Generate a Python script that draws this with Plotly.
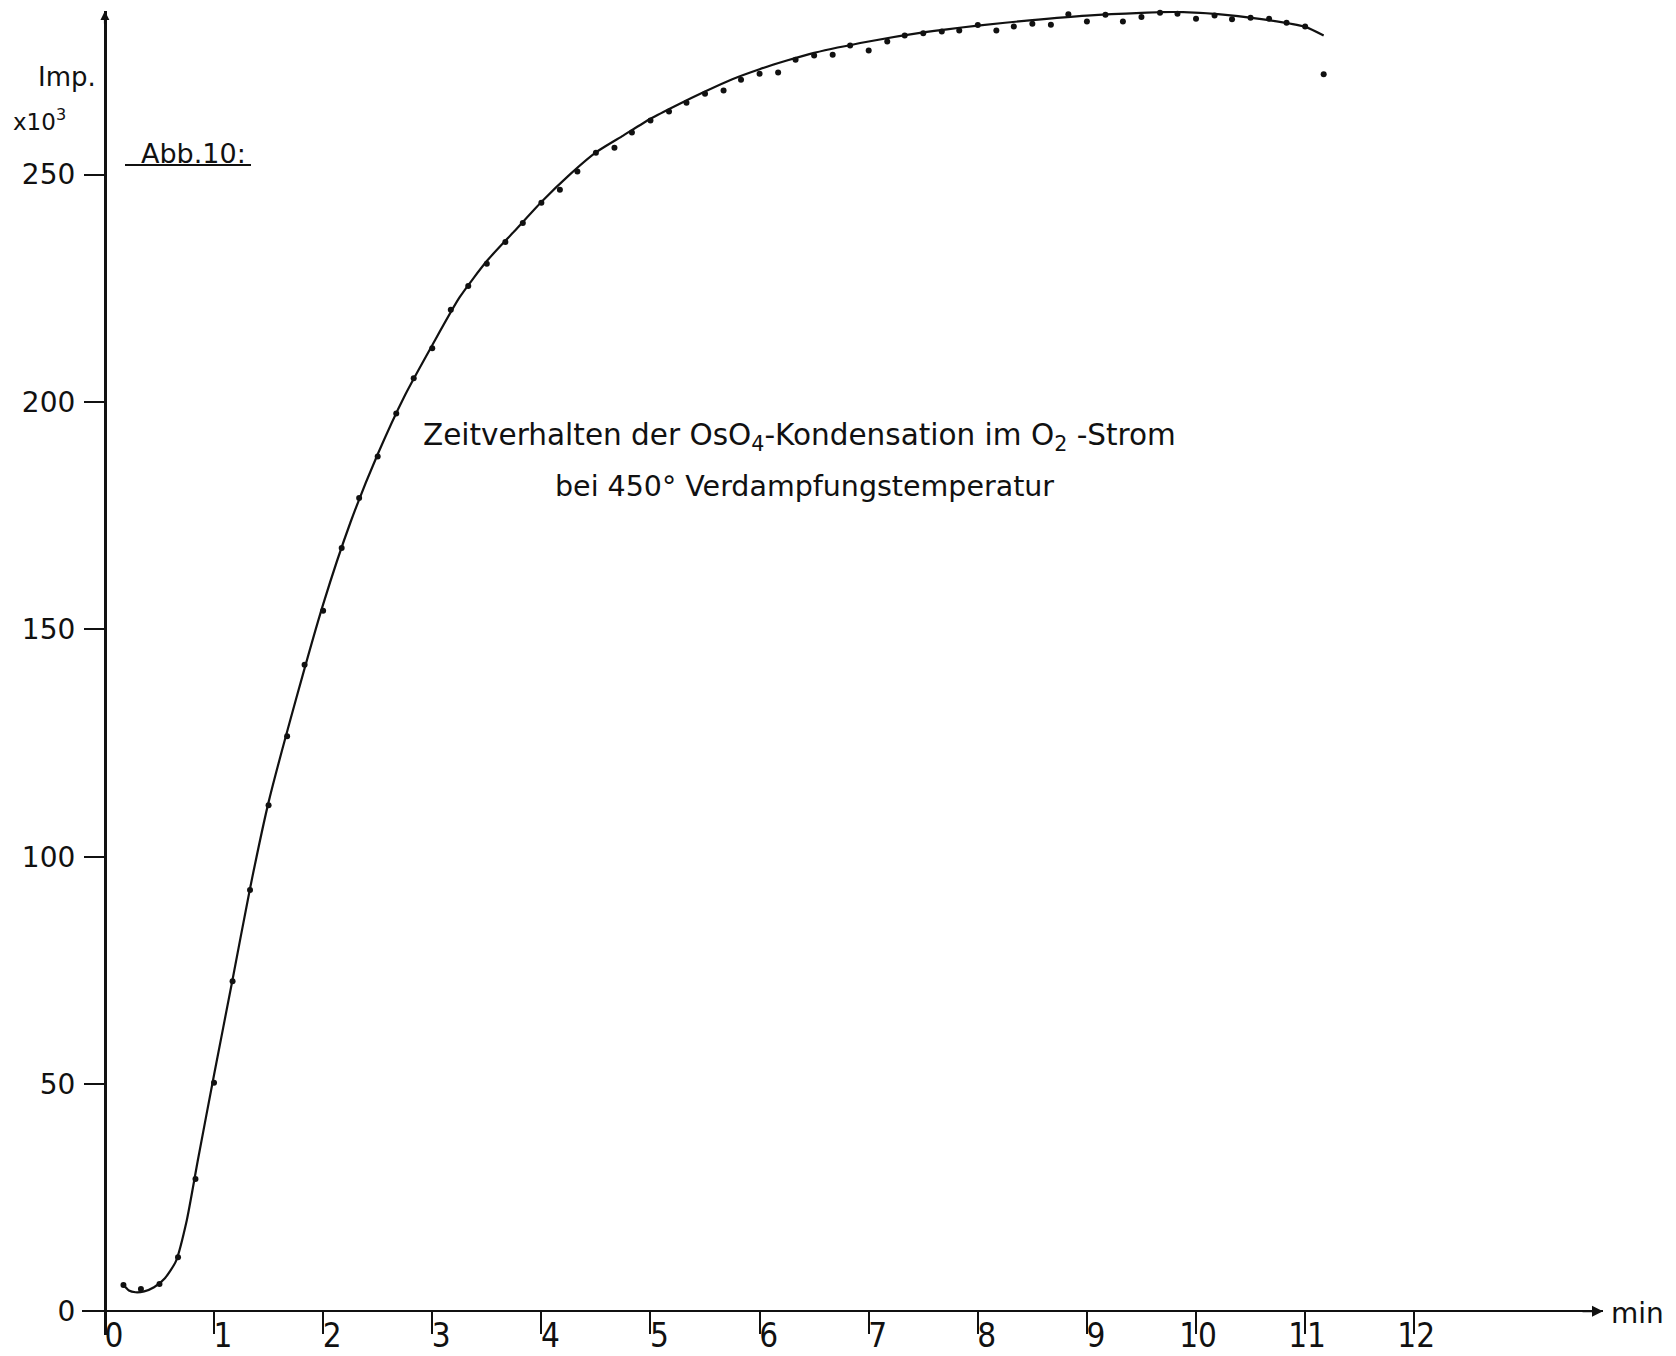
import plotly.graph_objects as go

# ---- data ----
time_min = [0.17, 0.33, 0.50, 0.67, 0.83, 1.00, 1.17, 1.33, 1.50, 1.67,
            1.83, 2.00, 2.17, 2.33, 2.50, 2.67, 2.83, 3.00, 3.17, 3.33,
            3.50, 3.67, 3.83, 4.00, 4.17, 4.33, 4.50, 4.67, 4.83, 5.00,
            5.17, 5.33, 5.50, 5.67, 5.83, 6.00, 6.17, 6.33, 6.50, 6.67,
            6.83, 7.00, 7.17, 7.33, 7.50, 7.67, 7.83, 8.00, 8.17, 8.33,
            8.50, 8.67, 8.83, 9.00, 9.17, 9.33, 9.50, 9.67, 9.83, 10.00,
            10.17, 10.33, 10.50, 10.67, 10.83, 11.00, 11.17]
counts_k = [5.8, 4.9, 6.0, 11.9, 29.1, 50.3, 72.6, 92.7, 111.3, 126.5,
            142.2, 154.1, 167.9, 178.9, 188.0, 197.5, 205.2, 211.8, 220.3, 225.5,
            230.4, 235.2, 239.4, 243.8, 246.7, 250.7, 254.8, 255.9, 259.3, 261.9,
            263.9, 265.8, 267.8, 268.5, 270.9, 272.2, 272.5, 275.3, 276.2, 276.4,
            278.4, 277.3, 279.3, 280.6, 281.1, 281.5, 281.7, 282.9, 281.7, 282.6,
            283.2, 283.0, 285.3, 283.7, 285.2, 283.7, 284.7, 285.6, 285.4, 284.3,
            285.0, 284.2, 284.5, 284.3, 283.4, 282.6, 272.1]

curve_t = [0.17, 0.22, 0.28, 0.36, 0.45, 0.55, 0.65, 0.75, 0.85, 1.00,
           1.17, 1.33, 1.50, 1.75, 2.00, 2.25, 2.50, 2.75, 3.00, 3.25,
           3.50, 3.75, 4.00, 4.25, 4.50, 4.75, 5.00, 5.25, 5.50, 5.75,
           6.00, 6.25, 6.50, 7.00, 7.50, 8.00, 8.50, 9.00, 9.50, 9.80,
           10.20, 10.60, 11.00, 11.17]
curve_y = [5.8, 4.6, 4.2, 4.4, 5.3, 7.3, 11.0, 20.0, 33.0, 52.0,
           73.0, 93.0, 112.0, 134.5, 155.5, 173.5, 188.5, 201.5, 212.5, 223.0,
           231.0, 237.5, 244.0, 249.8, 254.9, 258.6, 262.3, 265.4, 268.3, 271.0,
           273.2, 275.1, 276.8, 279.3, 281.3, 282.8, 284.0, 285.0, 285.6, 285.8,
           285.3, 284.2, 282.5, 280.6]

y_ticks = [0, 50, 100, 150, 200, 250]
y_ticktext = ["0", "50", "100", "150", "200", "250"]
x_ticks_a = [0, 1, 2, 3, 4, 5, 6, 7, 8, 9, 10, 11, 12]
x_ticktext_a = ["0", "1", "2", "3", "4", "5", "6", "7", "8", "9", "", "", ""]
x_ticks_b = [10, 11, 12]
x_ticktext_b = ["10", "11", "12"]

title_1 = "Zeitverhalten der OsO<sub>4</sub>-Kondensation im O<sub>2</sub> -Strom"
title_2 = "bei 450° Verdampfungstemperatur"

# ---- layout geometry ----
W, H = 1676, 1356
L, R, T, B = 82, 73, 11, 21
X_MIN, X_MAX = -0.21, 13.73
Y_MIN, Y_MAX = -5.2, 286.0
PW, PH = W - L - R, H - T - B

def px(xp):
    return (xp - L) / PW

def py(yp):
    return (H - B - yp) / PH

FONT = "DejaVu Sans"
NARROW = "Liberation Sans Narrow, DejaVu Sans Condensed, Arial Narrow, DejaVu Sans"
INK = "#111111"

fig = go.Figure()
fig.add_trace(go.Scatter(
    x=curve_t, y=curve_y, mode="lines", xaxis="x2", yaxis="y",
    line=dict(color=INK, width=2.2, shape="spline", smoothing=0.6),
    hoverinfo="skip", showlegend=False, cliponaxis=False))
fig.add_trace(go.Scatter(
    x=time_min, y=counts_k, mode="markers",
    marker=dict(color=INK, size=6),
    showlegend=False, cliponaxis=False))

xpos = (0 - Y_MIN) / (Y_MAX - Y_MIN)
ypos = (0 - X_MIN) / (X_MAX - X_MIN)

common_x = dict(range=[X_MIN, X_MAX], anchor="free", position=xpos,
                automargin=False,
                showgrid=False, zeroline=False, ticks="outside", ticklen=22,
                tickwidth=2, ticklabelstandoff=-27,
                tickfont=dict(family=NARROW, size=33, color=INK))

fig.update_layout(
    width=W, height=H,
    margin=dict(l=L, r=R, t=T, b=B, autoexpand=False),
    paper_bgcolor="white", plot_bgcolor="white",
    xaxis=dict(**common_x, showline=True, linewidth=2, linecolor=INK,
               tickcolor=INK, tickvals=x_ticks_a, ticktext=x_ticktext_a,
               ticklabelshift=9),
    xaxis2=dict(**common_x, overlaying="x", showline=False,
                tickcolor="rgba(0,0,0,0)", tickvals=x_ticks_b,
                ticktext=x_ticktext_b, ticklabelshift=2),
    yaxis=dict(range=[Y_MIN, Y_MAX], anchor="free", position=ypos,
               automargin=False,
               showgrid=False, zeroline=False, showline=True, linewidth=3,
               linecolor=INK, ticks="outside", ticklen=20, tickwidth=2,
               tickcolor=INK, tickvals=y_ticks, ticktext=y_ticktext,
               ticklabelstandoff=3,
               tickfont=dict(family=FONT, size=28, color=INK)),
    font=dict(family=FONT, color=INK),
)

annotations = [
    # x-axis arrow and unit
    dict(x=X_MAX, y=0, xref="x", yref="y", text="", showarrow=True,
         ax=-22, ay=0, arrowhead=2, arrowsize=1.1, arrowwidth=2,
         arrowcolor=INK, standoff=0),
    dict(x=X_MAX, y=0, xref="x", yref="y", text="min", showarrow=False,
         xanchor="left", yanchor="middle", xshift=6, yshift=-2,
         font=dict(family=FONT, size=28, color=INK)),
    # y-axis arrow
    dict(x=0, y=Y_MAX, xref="x", yref="y", text="", showarrow=True,
         ax=0, ay=14, arrowhead=2, arrowsize=0.9, arrowwidth=2,
         arrowcolor=INK, standoff=0),
    # y-axis unit
    dict(x=px(98), y=py(77), xref="paper", yref="paper", text="Imp.",
         showarrow=False, xanchor="right", yanchor="middle",
         font=dict(family=FONT, size=26, color=INK)),
    dict(x=px(68), y=py(120), xref="paper", yref="paper", text="x10<sup>3</sup>",
         showarrow=False, xanchor="right", yanchor="middle",
         font=dict(family=FONT, size=23, color=INK)),
    dict(x=px(193), y=py(153), xref="paper", yref="paper", text="Abb.10:",
         showarrow=False, xanchor="center", yanchor="middle",
         font=dict(family=FONT, size=27, color=INK)),
    # title text
    dict(x=px(799), y=py(437), xref="paper", yref="paper", text=title_1,
         showarrow=False, xanchor="center", yanchor="middle",
         font=dict(family=FONT, size=29.5, color=INK)),
    dict(x=px(804), y=py(486), xref="paper", yref="paper", text=title_2,
         showarrow=False, xanchor="center", yanchor="middle",
         font=dict(family=FONT, size=28.5, color=INK)),
]
fig.update_layout(annotations=annotations)

fig.add_shape(type="line", xref="paper", yref="paper",
              x0=px(125), x1=px(251), y0=py(165), y1=py(165),
              line=dict(color=INK, width=2))

fig.write_html("out.html")
